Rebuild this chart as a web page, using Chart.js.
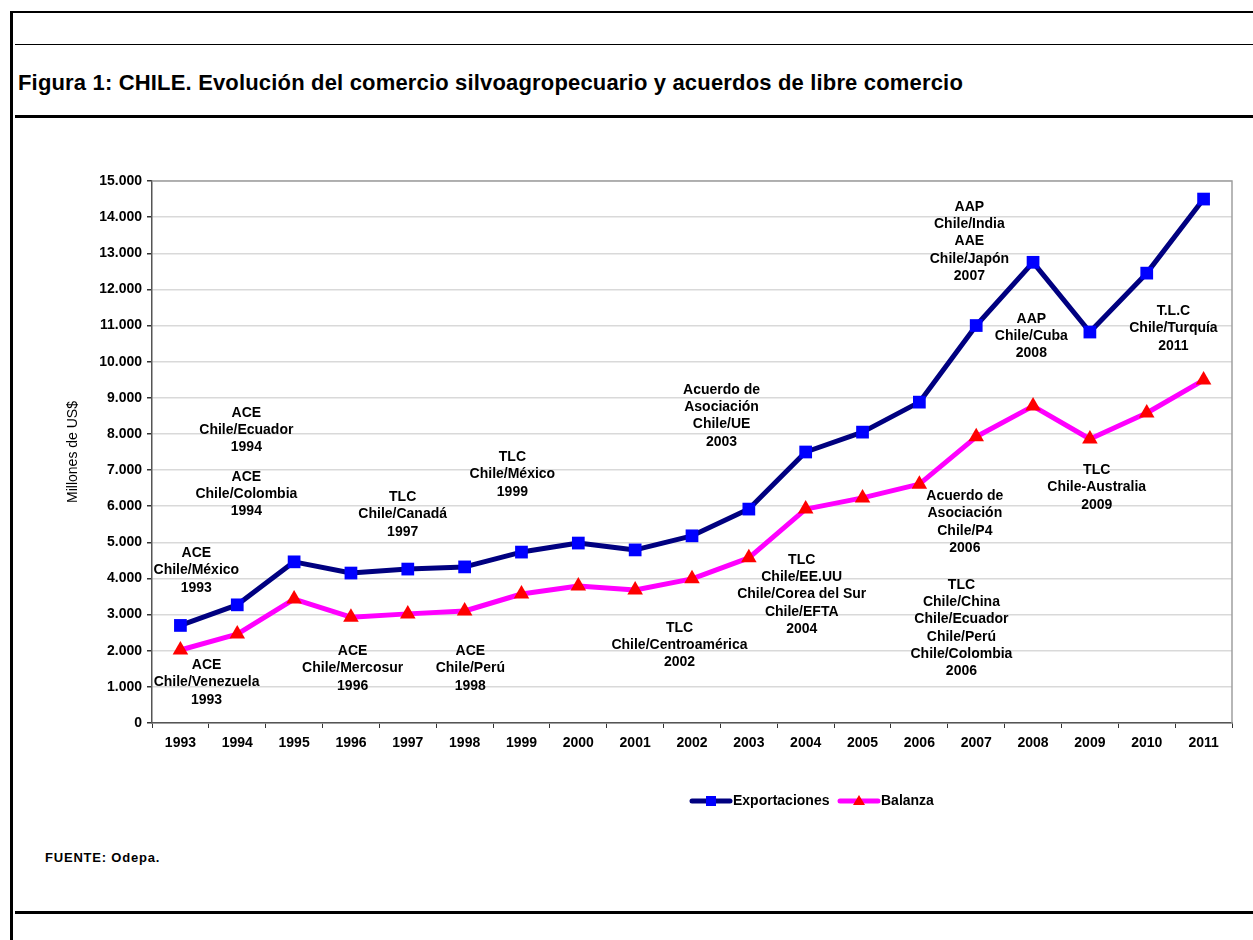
<!DOCTYPE html>
<html>
<head>
<meta charset="utf-8">
<script src="https://cdn.jsdelivr.net/npm/chart.js@4.4.1/dist/chart.umd.min.js"></script>
<style>
  body { margin: 0; background: #fff; }
  #page { position: relative; width: 1253px; height: 940px; overflow: hidden; font-family: "Liberation Sans", Arial, sans-serif; }
  .rule { position: absolute; background: #000; }
  #title { position: absolute; left: 18px; top: 71px; font-weight: bold; font-size: 22px; line-height: 24px; letter-spacing: 0.17px; white-space: nowrap; }
  #fuente { position: absolute; left: 45px; top: 850px; font-weight: bold; font-size: 13px; letter-spacing: 0.8px; white-space: nowrap; }
  #chart { position: absolute; left: 0; top: 0; }
</style>
</head>
<body>
<div id="page">
  <div class="rule" style="left:10px;top:11px;width:1243px;height:2px"></div>
  <div class="rule" style="left:10px;top:11px;width:3px;height:929px"></div>
  <div class="rule" style="left:15px;top:44px;width:1238px;height:1px"></div>
  <div class="rule" style="left:15px;top:115px;width:1238px;height:3px"></div>
  <div class="rule" style="left:15px;top:911px;width:1238px;height:3px"></div>
  <div id="title">Figura 1: CHILE. Evolución del comercio silvoagropecuario y acuerdos de libre comercio</div>
  <div id="fuente">FUENTE: Odepa.</div>
  <canvas id="chart" width="1253" height="940"></canvas>
</div>
<script>
// years and series (millones de US$)
const years = ['1993', '1994', '1995', '1996', '1997', '1998', '1999', '2000', '2001', '2002',
  '2003', '2004', '2005', '2006', '2007', '2008', '2009', '2010', '2011'];
const exportaciones = [2700, 3270, 4460, 4150, 4260, 4320, 4730, 4980, 4790, 5180,
  5920, 7500, 8050, 8880, 11000, 12750, 10820, 12450, 14500];
const balanza = [2020, 2460, 3430, 2930, 3020, 3100, 3570, 3790, 3680, 3990,
  4570, 5920, 6230, 6610, 7920, 8770, 7860, 8580, 9490];

// trade agreement notes: text, category index, value of first line
const notaTexto = [
  'ACE\nChile/México\n1993',
  'ACE\nChile/Venezuela\n1993',
  'ACE\nChile/Ecuador\n1994',
  'ACE\nChile/Colombia\n1994',
  'TLC\nChile/Canadá\n1997',
  'ACE\nChile/Mercosur\n1996',
  'ACE\nChile/Perú\n1998',
  'TLC\nChile/México\n1999',
  'Acuerdo de\nAsociación\nChile/UE\n2003',
  'TLC\nChile/Centroamérica\n2002',
  'TLC\nChile/EE.UU\nChile/Corea del Sur\nChile/EFTA\n2004',
  'AAP\nChile/India\nAAE\nChile/Japón\n2007',
  'AAP\nChile/Cuba\n2008',
  'T.L.C\nChile/Turquía\n2011',
  'TLC\nChile-Australia\n2009',
  'Acuerdo de\nAsociación\nChile/P4\n2006',
  'TLC\nChile/China\nChile/Ecuador\nChile/Perú\nChile/Colombia\n2006'
];
const notaX = [0.28, 0.46, 1.16, 1.16, 3.91, 3.03, 5.10, 5.84, 9.52, 8.78, 10.93, 13.88, 14.97, 17.47, 16.12, 13.80, 13.74];
const notaY = [4700, 1600, 8580, 6810, 6250, 1990, 1990, 7360, 9220, 2630, 4510, 14280, 11180, 11400, 7000, 6280, 3820];

const FONT = '"Liberation Sans", Arial, sans-serif';

const extras = {
  id: 'extras',
  afterDraw(chart) {
    const ctx = chart.ctx;
    const a = chart.chartArea;
    const xs = chart.scales.x, ys = chart.scales.y;
    ctx.save();
    // plot area frame
    ctx.strokeStyle = '#a0a0a0';
    ctx.lineWidth = 1.5;
    ctx.beginPath();
    ctx.moveTo(a.left, a.top);
    ctx.lineTo(a.right, a.top);
    ctx.lineTo(a.right, a.bottom);
    ctx.stroke();

    // notes
    ctx.fillStyle = '#000';
    ctx.font = 'bold 14px ' + FONT;
    ctx.textAlign = 'center';
    ctx.textBaseline = 'middle';
    notaTexto.forEach((t, i) => {
      const x = xs.getPixelForValue(notaX[i]);
      const y = ys.getPixelForValue(notaY[i]);
      t.split('\n').forEach((line, k) => ctx.fillText(line, x, y + k * 17.3));
    });

    // y axis title
    ctx.save();
    ctx.translate(73, (a.top + a.bottom) / 2);
    ctx.rotate(-Math.PI / 2);
    ctx.font = '14px ' + FONT;
    ctx.fillText('Millones de US$', 0, 0);
    ctx.restore();

    // legend
    const ly = a.bottom + 78;
    const items = [
      { x: 690, label: chart.data.datasets[0].label, line: '#000080', mark: '#0000ff', tri: false },
      { x: 838, label: chart.data.datasets[1].label, line: '#ff00ff', mark: '#ff0000', tri: true }
    ];
    ctx.textAlign = 'left';
    ctx.font = 'bold 14px ' + FONT;
    items.forEach(it => {
      ctx.strokeStyle = it.line;
      ctx.lineWidth = 5;
      ctx.lineCap = 'round';
      ctx.beginPath();
      ctx.moveTo(it.x + 2, ly);
      ctx.lineTo(it.x + 40, ly);
      ctx.stroke();
      ctx.fillStyle = it.mark;
      const cx = it.x + 21;
      if (it.tri) {
        ctx.beginPath();
        ctx.moveTo(cx, ly - 6);
        ctx.lineTo(cx + 6, ly + 4);
        ctx.lineTo(cx - 6, ly + 4);
        ctx.closePath();
        ctx.fill();
      } else {
        ctx.fillRect(cx - 5, ly - 5, 10, 10);
      }
      ctx.fillStyle = '#000';
      ctx.fillText(it.label, it.x + 43, ly);
    });
    ctx.restore();
  }
};

const ctx = document.getElementById('chart').getContext('2d');
const chart = new Chart(ctx, {
  type: 'line',
  data: {
    labels: years,
    datasets: [{
      label: 'Exportaciones',
      data: exportaciones,
      borderColor: '#000080',
      borderWidth: 5,
      borderJoinStyle: 'round',
      pointStyle: 'rect',
      pointRadius: 9,
      pointHoverRadius: 9,
      pointBackgroundColor: '#0000ff',
      pointBorderWidth: 0,
      tension: 0
    }, {
      label: 'Balanza',
      data: balanza,
      borderColor: '#ff00ff',
      borderWidth: 5,
      borderJoinStyle: 'round',
      pointStyle: 'triangle',
      pointRadius: 9,
      pointHoverRadius: 9,
      pointBackgroundColor: '#ff0000',
      pointBorderWidth: 0,
      tension: 0
    }]
  },
  options: {
    responsive: false,
    animation: false,
    layout: { padding: { left: 0, top: 181, right: 21, bottom: 187 } },
    plugins: {
      legend: { display: false },
      tooltip: { enabled: false }
    },
    scales: {
      x: {
        offset: true,
        grid: { offset: true, drawOnChartArea: false, drawTicks: true, tickLength: 5, tickColor: '#333' },
        border: { color: '#555', width: 1.5 },
        ticks: { color: '#000', font: { family: FONT, size: 14, weight: 'bold' }, padding: 7, maxRotation: 0, autoSkip: false },
        afterFit(s) { s.height = 30; }
      },
      y: {
        min: 0,
        max: 15000,
        grid: { color: '#d9d9d9', lineWidth: 1.5, tickLength: 5, tickColor: '#333' },
        border: { color: '#555', width: 1.5 },
        ticks: {
          stepSize: 1000,
          color: '#000',
          font: { family: FONT, size: 14, weight: 'bold' },
          padding: 5,
          callback: v => v.toLocaleString('de-DE')
        },
        afterFit(s) { s.width = 152; }
      }
    }
  },
  plugins: [extras]
});
</script>
</body>
</html>
